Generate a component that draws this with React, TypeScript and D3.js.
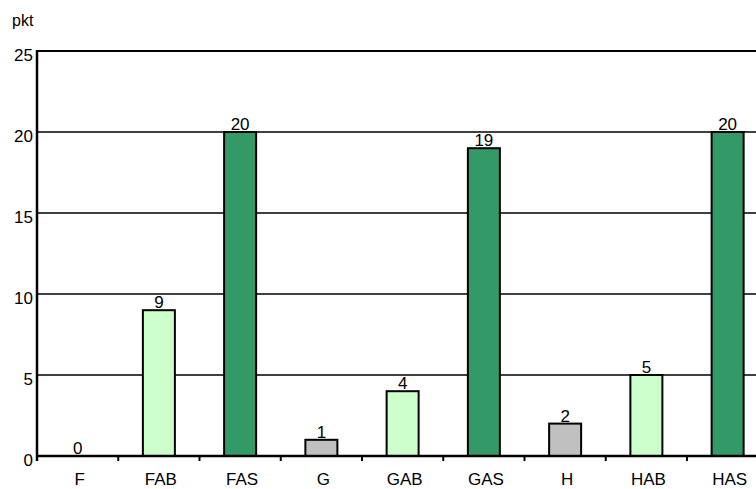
import React from "react";
import { scaleBand, scaleLinear } from "d3";

const categories = ["F", "FAB", "FAS", "G", "GAB", "GAS", "H", "HAB", "HAS"];
const values = [0, 9, 20, 1, 4, 19, 2, 5, 20];
const groups = ["base", "ab", "as", "base", "ab", "as", "base", "ab", "as"];
const yTicks = [0, 5, 10, 15, 20, 25];
const unitLabel = "pkt";

const colors: Record<string, string> = {
  base: "#c0c0c0",
  ab: "#ccffcc",
  as: "#339966",
};

const left = 37;
const bottom = 456;
const top = 51;
const band = 81.25;
const font = "Liberation Sans, Arial, sans-serif";

export default function App() {
  const x = scaleBand<string>()
    .domain(categories)
    .range([left, left + band * categories.length]);
  const y = scaleLinear().domain([0, 25]).range([bottom, top]);
  const barW = 32;

  return (
    <svg
      width={756}
      height={489}
      style={{ position: "absolute", left: 0, top: 0, background: "#fff" }}
      fontFamily={font}
    >
      <text x={12} y={26} fontSize={16}>
        {unitLabel}
      </text>

      {/* gridlines */}
      {yTicks.map((t) => (
        <line
          key={t}
          x1={left}
          x2={756}
          y1={y(t)}
          y2={y(t)}
          stroke="#000"
          strokeWidth={t === 25 || t === 0 ? 2 : 1.4}
        />
      ))}

      {/* y tick labels */}
      {yTicks.map((t) => (
        <text
          key={"l" + t}
          x={left - 4}
          y={y(t) + 10}
          fontSize={17}
          textAnchor="end"
        >
          {t}
        </text>
      ))}

      {/* bars */}
      {categories.map((c, i) => {
        const cx = (x(c) ?? 0) + x.bandwidth() / 2;
        const v = values[i];
        return (
          <g key={c}>
            {v > 0 && (
              <rect
                x={cx - barW / 2}
                y={y(v)}
                width={barW}
                height={bottom - y(v)}
                fill={colors[groups[i]]}
                stroke="#000"
                strokeWidth={2}
              />
            )}
            <text x={cx} y={y(v) - 2} fontSize={17} textAnchor="middle">
              {v}
            </text>
          </g>
        );
      })}

      {/* axes */}
      <line x1={left} x2={756} y1={bottom} y2={bottom} stroke="#000" strokeWidth={2.5} />
      <line x1={left} x2={left} y1={top - 1} y2={bottom + 5} stroke="#000" strokeWidth={2.5} />
      {categories.map((c) => (
        <line
          key={"t" + c}
          x1={(x(c) ?? 0) + x.bandwidth()}
          x2={(x(c) ?? 0) + x.bandwidth()}
          y1={bottom}
          y2={bottom + 5}
          stroke="#000"
          strokeWidth={2}
        />
      ))}

      {/* x labels */}
      {categories.map((c) => (
        <text
          key={"x" + c}
          x={(x(c) ?? 0) + x.bandwidth() / 2 + 2}
          y={485}
          fontSize={17}
          textAnchor="middle"
        >
          {c}
        </text>
      ))}
    </svg>
  );
}
